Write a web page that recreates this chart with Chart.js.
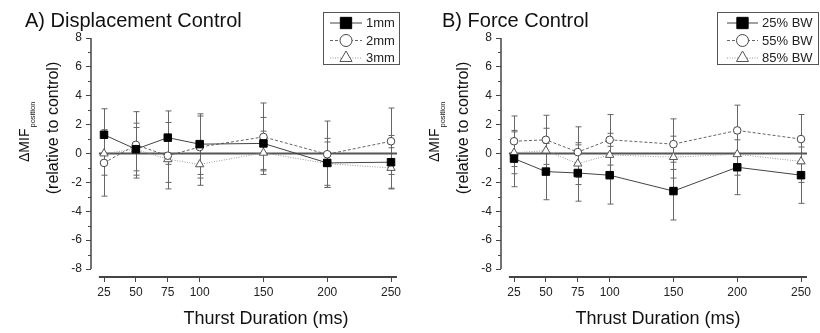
<!DOCTYPE html>
<html>
<head>
<meta charset="utf-8">
<script src="https://cdn.jsdelivr.net/npm/chart.js@4"></script>
<style>
  body { margin: 0; background: #fff; }
  .panel { position: absolute; top: 0; width: 410px; height: 333px; }
</style>
</head>
<body>
<div class="panel" style="left:0"><canvas id="dispChart" width="410" height="333"></canvas></div>
<div class="panel" style="left:410px"><canvas id="forceChart" width="410" height="333"></canvas></div>
<script>
// thrust durations (ms) on the x axis
const durations = [25, 50, 75, 100, 150, 200, 250];
const yTickValues = [-8, -6, -4, -2, 0, 2, 4, 6, 8];

// A) displacement control: mean and SD
const disp1mm = [1.3, 0.3, 1.1, 0.65, 0.7, -0.65, -0.6];
const disp1mmErr = [1.8, 1.8, 1.85, 2.1, 1.8, 1.7, 1.85];
const disp2mm = [-0.65, 0.6, -0.15, 0.45, 1.15, -0.05, 0.85];
const disp2mmErr = [2.3, 2.3, 2.3, 2.15, 2.35, 2.3, 2.3];
const disp3mm = [0.0, 0.3, -0.4, -0.75, 0.05, -0.7, -1.0];
const disp3mmErr = [1.5, 1.5, 1.6, 1.45, 1.5, 1.5, 1.4];

// B) force control: mean and SD
const force25 = [-0.35, -1.25, -1.35, -1.5, -2.6, -0.95, -1.5];
const force25Err = [1.95, 1.95, 1.95, 2.0, 2.0, 1.9, 1.95];
const force55 = [0.85, 0.95, 0.1, 0.95, 0.65, 1.6, 1.0];
const force55Err = [1.75, 1.7, 1.75, 1.75, 1.75, 1.75, 1.7];
const force85 = [0.05, 0.2, -0.7, -0.1, -0.25, -0.05, -0.55];
const force85Err = [1.45, 1.55, 1.45, 1.5, 1.45, 1.45, 1.45];

const FONT = '"Liberation Sans", Arial, sans-serif';
const X_MIN = 14.8, X_MAX = 254.7, X_AXIS_START = 21;
const Y_MIN = -8.55, Y_MAX = 8;

const seriesStyles = [
  { pointStyle: 'rect', radius: 5.3, legendRadius: 8, fill: '#000', stroke: '#000', line: '#444', dash: [] },
  { pointStyle: 'circle', radius: 3.8, legendRadius: 6, fill: '#fff', stroke: '#444', line: '#666', dash: [3, 2] },
  { pointStyle: 'triangle', radius: 4.8, legendRadius: 7, fill: '#fff', stroke: '#555', line: '#999', dash: [1, 1.5] },
];

const decorPlugin = {
  id: 'decor',
  beforeDatasetsDraw(chart) {
    // error bars
    const ctx = chart.ctx;
    const xs = chart.scales.x, ys = chart.scales.y;
    ctx.save();
    ctx.strokeStyle = '#666';
    ctx.lineWidth = 1;
    chart.data.datasets.forEach(ds => {
      if (!ds.errors) return;
      ds.data.forEach((p, i) => {
        const px = Math.round(xs.getPixelForValue(p.x)) + 0.5;
        const top = ys.getPixelForValue(p.y + ds.errors[i]);
        const bot = ys.getPixelForValue(p.y - ds.errors[i]);
        ctx.beginPath();
        ctx.moveTo(px, top); ctx.lineTo(px, bot);
        ctx.moveTo(px - 3, top); ctx.lineTo(px + 3, top);
        ctx.moveTo(px - 3, bot); ctx.lineTo(px + 3, bot);
        ctx.stroke();
      });
    });
    ctx.restore();
  },
  afterDraw(chart, args, opts) {
    const ctx = chart.ctx;
    const xs = chart.scales.x, ys = chart.scales.y;
    const area = chart.chartArea;
    ctx.save();

    // axis lines (Origin style, detached)
    ctx.strokeStyle = '#444';
    ctx.lineWidth = 1.5;
    ctx.beginPath();
    ctx.moveTo(area.left, ys.getPixelForValue(Y_MAX));
    ctx.lineTo(area.left, ys.getPixelForValue(-8));
    ctx.stroke();
    ctx.lineWidth = 2;
    ctx.beginPath();
    ctx.moveTo(xs.getPixelForValue(X_AXIS_START), area.bottom);
    ctx.lineTo(area.right, area.bottom);
    ctx.stroke();

    // minor y ticks
    ctx.lineWidth = 1;
    ctx.beginPath();
    for (let v = -7; v <= 7; v += 2) {
      const py = Math.round(ys.getPixelForValue(v)) + 0.5;
      ctx.moveTo(area.left, py); ctx.lineTo(area.left - 3, py);
    }
    ctx.stroke();

    // panel title
    ctx.fillStyle = '#111';
    ctx.font = '20px ' + FONT;
    ctx.textAlign = 'left';
    ctx.textBaseline = 'alphabetic';
    ctx.fillText(opts.title, opts.titleX, 27);

    // x title
    ctx.font = '18px ' + FONT;
    ctx.textAlign = 'center';
    ctx.fillText(opts.xTitle, opts.xTitleX, 324);

    // y title with subscript
    ctx.save();
    ctx.translate(29, 162);
    ctx.rotate(-Math.PI / 2);
    ctx.textAlign = 'left';
    ctx.font = '14px ' + FONT;
    ctx.fillText('\u0394MIF', 0, 0);
    const w = ctx.measureText('\u0394MIF').width;
    ctx.font = '7.5px ' + FONT;
    ctx.fillText('position', w + 1, 5.5);
    ctx.restore();
    ctx.save();
    ctx.translate(54, 128);
    ctx.rotate(-Math.PI / 2);
    ctx.font = '16px ' + FONT;
    ctx.textAlign = 'center';
    ctx.textBaseline = 'middle';
    ctx.fillText('(relative to control)', 0, 0);
    ctx.restore();

    // legend
    const lg = opts.legend;
    ctx.strokeStyle = '#555';
    ctx.lineWidth = 1;
    ctx.strokeRect(lg.x + 0.5, lg.y + 0.5, lg.w, lg.h);
    const rows = [23, 40.5, 58];
    chart.data.datasets.forEach((ds, i) => {
      if (!ds.errors) return;
      const st = seriesStyles[i];
      const ry = rows[i];
      ctx.strokeStyle = st.line;
      ctx.setLineDash(st.dash);
      ctx.beginPath();
      ctx.moveTo(lg.lineX0, ry); ctx.lineTo(lg.lineX1, ry);
      ctx.stroke();
      ctx.setLineDash([]);
      ctx.fillStyle = st.fill;
      ctx.strokeStyle = st.stroke;
      Chart.helpers.drawPoint(ctx, { pointStyle: st.pointStyle, radius: st.legendRadius, rotation: 0, borderWidth: 1 },
        (lg.lineX0 + lg.lineX1) / 2, ry);
      ctx.fillStyle = '#222';
      ctx.font = '13px ' + FONT;
      ctx.textAlign = 'left';
      ctx.textBaseline = 'middle';
      ctx.fillText(ds.label, lg.textX, ry + 0.5);
    });
    ctx.restore();
  }
};

function buildPanel(id, panel) {
  const datasets = panel.series.map((s, i) => {
    const st = seriesStyles[i];
    return {
      label: s.label,
      data: durations.map((d, j) => ({ x: d, y: s.values[j] })),
      errors: s.errors,
      showLine: true,
      borderColor: st.line,
      borderWidth: 1,
      borderDash: st.dash,
      pointStyle: st.pointStyle,
      pointRadius: st.radius,
      pointBackgroundColor: st.fill,
      pointBorderColor: st.stroke,
      pointBorderWidth: 1,
    };
  });
  // zero reference line
  datasets.push({
    label: 'zero',
    data: [{ x: X_AXIS_START, y: 0 }, { x: X_MAX, y: 0 }],
    showLine: true,
    borderColor: '#555',
    borderWidth: 2,
    pointRadius: 0,
  });

  new Chart(document.getElementById(id), {
    type: 'scatter',
    data: { datasets },
    plugins: [decorPlugin],
    options: {
      responsive: false,
      animation: false,
      devicePixelRatio: 1,
      layout: { padding: { left: 0, right: 13, top: 38, bottom: 0 } },
      plugins: {
        legend: { display: false },
        tooltip: { enabled: false },
        decor: panel.decor,
      },
      scales: {
        x: {
          type: 'linear',
          min: X_MIN,
          max: X_MAX,
          afterBuildTicks: sc => { sc.ticks = durations.map(v => ({ value: v })); },
          afterFit: sc => { sc.height = 56; },
          border: { display: false },
          grid: { drawOnChartArea: false, drawTicks: true, tickLength: 5, tickColor: '#444' },
          ticks: { color: '#222', font: { family: FONT, size: 12 }, padding: 3, maxRotation: 0 },
        },
        y: {
          min: Y_MIN,
          max: Y_MAX,
          afterBuildTicks: sc => { sc.ticks = yTickValues.map(v => ({ value: v })); },
          afterFit: sc => { sc.width = 91; },
          border: { display: false },
          grid: { drawOnChartArea: false, drawTicks: true, tickLength: 5, tickColor: '#444' },
          ticks: { color: '#222', font: { family: FONT, size: 12 }, padding: 4 },
        },
      },
    },
  });
}

buildPanel('dispChart', {
  series: [
    { label: '1mm', values: disp1mm, errors: disp1mmErr },
    { label: '2mm', values: disp2mm, errors: disp2mmErr },
    { label: '3mm', values: disp3mm, errors: disp3mmErr },
  ],
  decor: {
    title: 'A) Displacement Control', titleX: 25,
    xTitle: 'Thurst Duration (ms)', xTitleX: 266,
    legend: { x: 323, y: 12, w: 76, h: 52, lineX0: 330, lineX1: 362, textX: 366 },
  },
});

buildPanel('forceChart', {
  series: [
    { label: '25% BW', values: force25, errors: force25Err },
    { label: '55% BW', values: force55, errors: force55Err },
    { label: '85% BW', values: force85, errors: force85Err },
  ],
  decor: {
    title: 'B) Force Control', titleX: 32,
    xTitle: 'Thrust Duration (ms)', xTitleX: 248,
    legend: { x: 307, y: 12, w: 101, h: 52, lineX0: 317, lineX1: 348, textX: 352 },
  },
});
</script>
</body>
</html>
